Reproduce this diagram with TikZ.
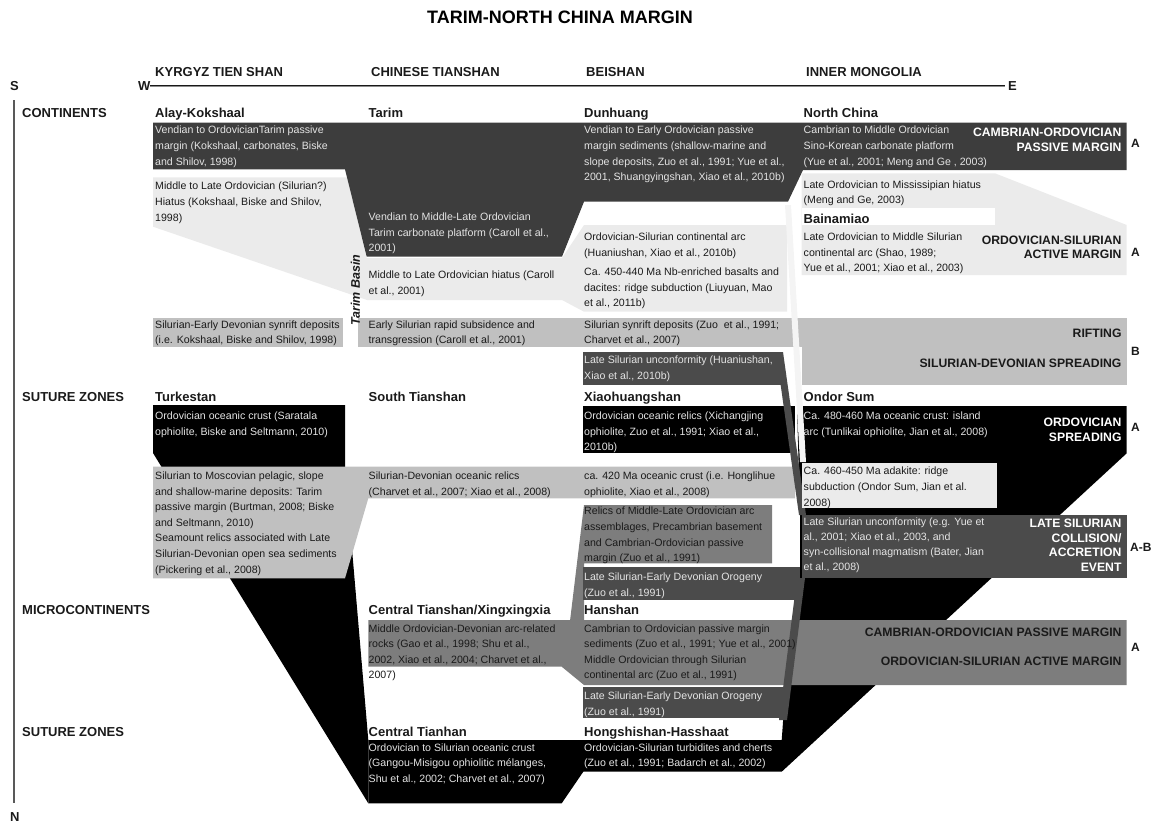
\documentclass[tikz,border=0pt]{standalone}
\usepackage{fontspec}
\setmainfont{Liberation Sans}
\definecolor{darkband}{HTML}{3D3D3D}
\definecolor{lightg}{HTML}{EBEBEB}
\definecolor{midlight}{HTML}{C0C0C0}
\definecolor{midg}{HTML}{7D7D7D}
\definecolor{dkg}{HTML}{4B4B4B}
\definecolor{ribbonlight}{HTML}{F4F4F4}
\definecolor{txtlight}{HTML}{E4E4E4}
\definecolor{txtdark}{HTML}{1A1A1A}
\tikzset{
  txt/.style={anchor=north west, inner sep=0pt, align=left, font=\fontsize{10.6}{15.6}\selectfont},
  lt/.style={txt, text=txtlight},
  dk/.style={txt, text=txtdark},
  hdr/.style={anchor=base west, inner sep=0pt, font=\fontsize{13}{15}\selectfont\bfseries, text=txtdark},
  labw/.style={anchor=north east, inner sep=0pt, align=right, font=\fontsize{12.2}{14.5}\selectfont\bfseries, text=white},
  labd/.style={anchor=north east, inner sep=0pt, align=right, font=\fontsize{12.2}{14.5}\selectfont\bfseries, text=txtdark},
  letter/.style={anchor=base west, inner sep=0pt, font=\fontsize{12}{14}\selectfont\bfseries, text=txtdark}
}
\begin{document}
\begin{tikzpicture}[x=1pt,y=-1pt]
\useasboundingbox (0,0) rectangle (1165,823);
% ---------- title and axes
\node[anchor=base, inner sep=0pt, font=\fontsize{18}{20}\selectfont\bfseries] (title) at (560,23.6) {TARIM-NORTH CHINA MARGIN};
\node[hdr] (hk) at (155,76.7) {KYRGYZ TIEN SHAN};
\node[hdr] (hc) at (371,76.7) {CHINESE TIANSHAN};
\node[hdr] (hb) at (586,76.7) {BEISHAN};
\node[hdr] (hm) at (806,76.7) {INNER MONGOLIA};
\node[hdr] (S) at (10,90.6) {S};
\node[hdr] (W) at (138,90.6) {W};
\node[hdr] (E) at (1008,90.6) {E};
\node[hdr] (N) at (10,821) {N};
\coordinate (we1) at (150,86);
\coordinate (we2) at (1005,86);
\draw[line width=0.9pt, double=black!45, double distance=0.7pt, color=black!90] (we1) -- (we2);
\coordinate (ns1) at (14,100);
\coordinate (ns2) at (14,803.3);
\draw[line width=2.6pt, color=black!65] (ns1) -- (ns2);
% ---------- light hiatus / arc fields
\fill[lightg] (153,177.3) -- (347,177.3) -- (366.7,258) -- (562,258) -- (584,225) -- (787,225) -- (787,311.7) -- (584,311.7) -- (562,300) -- (367,300) -- (153,226.7) -- cycle;
\fill[lightg] (801.7,173.3) -- (995,173.3) -- (1126.7,225) -- (1126.7,275) -- (801.7,275) -- cycle;
\fill[white] (801.7,208.3) rectangle (995,225);
% ---------- passive margin band
\fill[darkband] (153,122.7) -- (1126.7,122.7) -- (1126.7,170) -- (803,170) -- (788,201.7) -- (584,201.7) -- (562,256.7) -- (366.7,256.7) -- (345,169.3) -- (153,169.3) -- cycle;
% ---------- synrift band
\fill[midlight] (153,318.3) rectangle (342.5,346.7);
\fill[midlight] (357.5,318.3) rectangle (1126.7,346.7);
\fill[midlight] (801.7,346.7) rectangle (1126.7,385);
% ---------- oceanic fields (black)
\fill[black] (153,405) -- (345,405) -- (345,467) -- (368.3,740) -- (368.3,803.3) -- (153,453) -- cycle;
\fill[black] (797,406) -- (1126.7,406) -- (1126.7,453.3) -- (781.7,771.7) -- (583.3,771.7) -- (561.7,803.3) -- (368.3,803.3) -- (368.3,740) -- (781.7,740) -- (783,722) -- (800,578) -- (800,515) -- cycle;
\fill[black] (583.3,406) rectangle (795,453.3);
% ---------- ridge-subduction ribbon
\fill[ribbonlight] (785,205) -- (791,205) -- (806,462) -- (800,462) -- cycle;
% ---------- Silurian-Devonian oceanic relics band
\fill[midlight] (153,466.7) -- (795,466.7) -- (795,498.3) -- (368.3,498.3) -- (345,578.3) -- (153,578.3) -- cycle;
% ---------- Late Silurian unconformity and ribbon
\fill[dkg] (583.3,351.7) rectangle (783,385);
\fill[dkg] (776,352) -- (783,352) -- (806,515) -- (799,515) -- cycle;
\fill[lightg] (801.7,463.3) rectangle (996.7,508.3);
\fill[dkg] (801.7,515) rectangle (1126.7,578.3);
% ---------- microcontinent fields
\fill[midg] (584,505) -- (772,505) -- (772,563.3) -- (584,563.3) -- (584,621) -- (570,621) -- cycle;
\fill[dkg] (583.3,566.7) rectangle (800,600);
\fill[midg] (368.3,620) -- (1126.7,620) -- (1126.7,685) -- (584,685) -- (561.7,666.7) -- (368.3,666.7) -- cycle;
\fill[dkg] (583.3,686.7) rectangle (783,718.3);
\fill[dkg] (797,578) -- (805,578) -- (787,720) -- (779,720) -- cycle;
% ---------- row and unit headers
\node[hdr] (rc) at (22,117.4) {CONTINENTS};
\node[hdr] (rs1) at (22,401.4) {SUTURE ZONES};
\node[hdr] (rm) at (22,614.7) {MICROCONTINENTS};
\node[hdr] (rs2) at (22,736.4) {SUTURE ZONES};
\node[hdr] (u1) at (155,117.4) {Alay-Kokshaal};
\node[hdr] (u2) at (368.5,117.4) {Tarim};
\node[hdr] (u3) at (584,117.4) {Dunhuang};
\node[hdr] (u4) at (803.5,117.4) {North China};
\node[hdr] (u5) at (803.5,223) {Bainamiao};
\node[hdr] (u6) at (155,401.4) {Turkestan};
\node[hdr] (u7) at (368.5,401.4) {South Tianshan};
\node[hdr] (u8) at (584,401.4) {Xiaohuangshan};
\node[hdr] (u9) at (803.5,401.4) {Ondor Sum};
\node[hdr] (u10) at (368.5,614.7) {Central Tianshan/Xingxingxia};
\node[hdr] (u11) at (584,614.7) {Hanshan};
\node[hdr] (u12) at (368.5,736.4) {Central Tianhan};
\node[hdr] (u13) at (584,736.4) {Hongshishan-Hasshaat};
\node[anchor=center, inner sep=0pt, rotate=90, font=\fontsize{12.5}{14}\selectfont\bfseries\itshape, text=txtdark] (tb) at (355.5,290) {Tarim Basin};
% ---------- passive margin texts
\node[lt] (t1) at (155,126) {Vendian to OrdovicianTarim passive\\margin (Kokshaal, carbonates, Biske\\and Shilov, 1998)};
\node[lt] (t2) at (368.5,212.7) {Vendian to Middle-Late Ordovician\\Tarim carbonate platform (Caroll et al.,\\2001)};
\node[lt] (t3) at (584,126) {Vendian to Early Ordovician passive\\margin sediments (shallow-marine and\\slope deposits, Zuo et al., 1991; Yue et al.,\\2001, Shuangyingshan, Xiao et al., 2010b)};
\node[lt] (t4) at (803.5,126) {Cambrian to Middle Ordovician\\Sino-Korean carbonate platform\\(Yue et al., 2001; Meng and Ge , 2003)};
\node[labw] (l1) at (1121.7,128.2) {CAMBRIAN-ORDOVICIAN\\PASSIVE MARGIN};
\node[letter] (a1) at (1131,147.6) {A};
% ---------- hiatus / arc texts
\node[dk] (t5) at (155,182) {Middle to Late Ordovician (Silurian?)\\Hiatus (Kokshaal, Biske and Shilov,\\1998)};
\node[dk] (t6) at (368.5,271) {Middle to Late Ordovician hiatus (Caroll\\et al., 2001)};
\node[dk] (t7) at (584,232.7) {Ordovician-Silurian continental arc\\(Huaniushan, Xiao et al., 2010b)};
\node[dk] (t8) at (584,267.7) {Ca. 450-440 Ma Nb-enriched basalts and\\dacites: ridge subduction (Liuyuan, Mao\\et al., 2011b)};
\node[dk] (t9) at (803.5,180.3) {Late Ordovician to Mississipian hiatus\\(Meng and Ge, 2003)};
\node[dk] (t10) at (803.5,232.7) {Late Ordovician to Middle Silurian\\continental arc (Shao, 1989;\\Yue et al., 2001; Xiao et al., 2003)};
\node[labd] (l2) at (1121.7,235.5) {ORDOVICIAN-SILURIAN\\ACTIVE MARGIN};
\node[letter] (a2) at (1131,256) {A};
% ---------- synrift texts
\node[dk, font=\fontsize{10.6}{15}\selectfont] (t11) at (155,321) {Silurian-Early Devonian synrift deposits\\(i.e. Kokshaal, Biske and Shilov, 1998)};
\node[dk, font=\fontsize{10.6}{15}\selectfont] (t12) at (368.5,321) {Early Silurian rapid subsidence and\\transgression (Caroll et al., 2001)};
\node[dk, font=\fontsize{10.6}{15}\selectfont] (t13) at (584,321) {Silurian synrift deposits (Zuo\ \ et al., 1991;\\Charvet et al., 2007)};
\node[labd] (l3a) at (1121.7,328.8) {RIFTING};
\node[labd] (l3b) at (1121.7,358.8) {SILURIAN-DEVONIAN SPREADING};
\node[letter] (b1) at (1131,355) {B};
\node[lt] (t14) at (584,356) {Late Silurian unconformity (Huaniushan,\\Xiao et al., 2010b)};
% ---------- oceanic texts
\node[lt] (t15) at (155,411.7) {Ordovician oceanic crust (Saratala\\ophiolite, Biske and Seltmann, 2010)};
\node[lt] (t16) at (584,411.7) {Ordovician oceanic relics (Xichangjing\\ophiolite, Zuo et al., 1991; Xiao et al.,\\2010b)};
\node[lt] (t17) at (803.5,411.7) {Ca. 480-460 Ma oceanic crust: island\\arc (Tunlikai ophiolite, Jian et al., 2008)};
\node[labw] (l4) at (1121.7,418.2) {ORDOVICIAN\\SPREADING};
\node[letter] (a3) at (1131,431) {A};
\node[dk] (t18) at (803.5,467) {Ca. 460-450 Ma adakite: ridge\\subduction (Ondor Sum, Jian et al.\\2008)};
\node[dk] (t19) at (155,471.7) {Silurian to Moscovian pelagic, slope\\and shallow-marine deposits: Tarim\\passive margin (Burtman, 2008; Biske\\and Seltmann, 2010)\\Seamount relics associated with Late\\Silurian-Devonian open sea sediments\\(Pickering et al., 2008)};
\node[dk] (t20) at (368.5,471.7) {Silurian-Devonian oceanic relics\\(Charvet et al., 2007; Xiao et al., 2008)};
\node[dk] (t21) at (584,471.7) {ca. 420 Ma oceanic crust (i.e. Honglihue\\ophiolite, Xiao et al., 2008)};
% ---------- collision / microcontinent texts
\node[dk] (t22) at (584,507) {Relics of Middle-Late Ordovician arc\\assemblages, Precambrian basement\\and Cambrian-Ordovician passive\\margin (Zuo et al., 1991)};
\node[lt, font=\fontsize{10.6}{15}\selectfont] (t23) at (803.5,517.7) {Late Silurian unconformity (e.g. Yue et\\al., 2001; Xiao et al., 2003, and\\syn-collisional magmatism (Bater, Jian\\et al., 2008)};
\node[labw] (l5) at (1121.7,518.8) {LATE SILURIAN\\COLLISION/\\ACCRETION\\EVENT};
\node[letter] (ab) at (1130,551) {A-B};
\node[lt] (t24) at (584,572.7) {Late Silurian-Early Devonian Orogeny\\(Zuo et al., 1991)};
\node[dk] (t25) at (368.5,624.3) {Middle Ordovician-Devonian arc-related\\rocks (Gao et al., 1998; Shu et al.,\\2002, Xiao et al., 2004; Charvet et al.,\\2007)};
\node[dk] (t26) at (584,624.3) {Cambrian to Ordovician passive margin\\sediments (Zuo et al., 1991; Yue et al., 2001)\\Middle Ordovician through Silurian\\continental arc (Zuo et al., 1991)};
\node[labd] (l6a) at (1121.7,628.2) {CAMBRIAN-ORDOVICIAN PASSIVE MARGIN};
\node[labd] (l6b) at (1121.7,657.2) {ORDOVICIAN-SILURIAN ACTIVE MARGIN};
\node[letter] (a4) at (1131,651.6) {A};
\node[lt] (t27) at (584,691.7) {Late Silurian-Early Devonian Orogeny\\(Zuo et al., 1991)};
\node[lt] (t28) at (368.5,743.3) {Ordovician to Silurian oceanic crust\\(Gangou-Misigou ophiolitic mélanges,\\Shu et al., 2002; Charvet et al., 2007)};
\node[lt] (t29) at (584,743.3) {Ordovician-Silurian turbidites and cherts\\(Zuo et al., 1991; Badarch et al., 2002)};
\end{tikzpicture}
\end{document}
